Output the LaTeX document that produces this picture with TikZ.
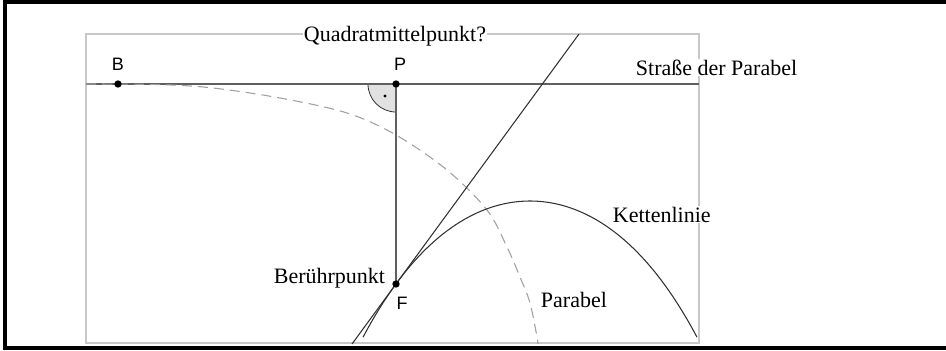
\documentclass[tikz,border=0pt]{standalone}
\usepackage{fontspec}
\setmainfont{Liberation Serif}
\newfontfamily\lblsans{Liberation Sans}
\usepackage{tikz}
\usetikzlibrary{calc}
\definecolor{cRahm}{RGB}{200,200,200}
\definecolor{cStr}{RGB}{ 95, 95, 95}
\definecolor{cKur}{RGB}{ 50, 50, 50}
\definecolor{cPar}{RGB}{160,160,160}
\definecolor{cWin}{RGB}{225,225,225}
\tikzset{
  rahm/.style  ={draw=cRahm,line width=0.8pt},
  str/.style   ={draw=cStr,line width=1.1pt},
  kur/.style   ={draw=cKur,line width=0.8pt},
  par/.style   ={draw=cPar,line width=0.8pt,dash pattern=on 7.5pt off 4.5pt},
  dot/.style   ={circle,fill=black,inner sep=0pt,minimum size=5.5pt},
  lbl/.style   ={font=\fontsize{16.5}{18}\selectfont,fill=white,inner sep=0.5pt},
  ptlbl/.style ={font=\lblsans\fontsize{13.5}{14}\selectfont,inner sep=0pt},
}

\begin{document}
\begin{tikzpicture}[x=0.75pt,y=-0.75pt]
% pixel grid of the reference: 946 x 350, y runs downwards
\useasboundingbox (0,0) rectangle (946,350);

%% frame
\draw[line width=2.4pt,line join=miter] (946,2) -- (5,2) -- (5,348) -- (946,348);
\draw[rahm] (86,34) rectangle (699,343);

%% road and fixed points
\coordinate (R0) at (86,84);
\coordinate (R1) at (699,84);
\coordinate (B) at (118,84);
\coordinate (P) at (396,84);
\coordinate (F) at (396,284);
\coordinate (T0) at (352,344);
\coordinate (T1) at (579,34);

% right angle at P
\filldraw[fill=cWin,draw=cKur,line width=0.6pt] (P) -- ++(-28,0) arc[start angle=180,end angle=90,radius=28] -- cycle;
\fill (385,96) circle (1.3pt);

\draw[str] (R0) -- (R1);
\draw[str] (P) -- (F);

% parabola (dashed)
\draw[par] plot[smooth,tension=0.55] coordinates {(86,84) (160,84.6) (213,88) (280,98) (347,113)
  (396,135) (447,170) (487,210) (507,247) (520,277) (530,303) (537,337) (538,344)};

% catenary and its tangent in F
\draw[kur] plot[domain=363:697,samples=120] (\x,{201+120*(cosh((\x-530)/120)-1)});
\draw[kur] (T0) -- (T1);

\node[dot] at (B) {};
\node[dot] at (P) {};
\node[dot] at (F) {};

%% labels
\node[ptlbl] (lB) at (118,64) {B};
\node[ptlbl] (lP) at (400,64) {P};
\node[ptlbl] (lF) at (402,303) {F};

\node[lbl,anchor=base west] (quad)    at (303,41)  {Quadratmittelpunkt?};
\node[lbl,anchor=base west] (strasse) at (635,75)  {Straße der Parabel};
\node[lbl,anchor=base west] (kette)   at (612,222) {Kettenlinie};
\node[lbl,anchor=base west] (parab)   at (540,307) {Parabel};
\node[lbl,anchor=base east] (beruehr) at (386,283) {Berührpunkt};

\end{tikzpicture}
\end{document}
